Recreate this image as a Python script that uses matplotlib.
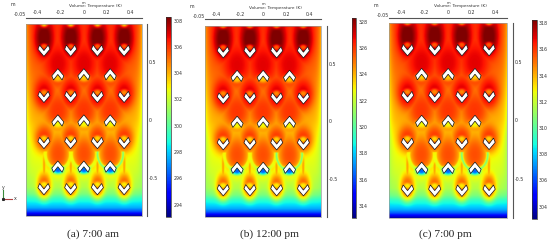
import numpy as np
import matplotlib
matplotlib.use('Agg')
import matplotlib.pyplot as plt
from matplotlib.patches import Polygon, Rectangle

W, H = 550, 244
captions = ['(a) 7:00 am', '(b) 12:00 pm', '(c) 7:00 pm']
offsets = [0, 20, 10]
cbar_ticks = [[294, 296, 298, 300, 302, 304, 306, 308],
              [314, 316, 318, 320, 322, 324, 326, 328],
              [304, 306, 308, 310, 312, 314, 316, 318]]
cbar_lims = [(293.03, 308.25), (313.06, 328.25), (303.03, 318.25)]
x_ticks = [-0.4, -0.2, 0, 0.2, 0.4]
y_ticks = [-0.5, 0, 0.5]

# panel geometry in reference pixels: image box, ruler positions, colourbar box
img_boxes = [(26, 141.7, 24, 216), (205.3, 321, 25.7, 217), (389.3, 507, 23, 218)]
top_ruler = [17.5, 19.3, 17.7]
right_ruler = [147, 326.7, 512.7]
cbar_boxes = [(166.3, 171, 17.3, 217.3), (351.7, 356.3, 18.3, 218.3), (532, 536.7, 20, 219.3)]
cap_xy = [(93, 234), (270, 234), (445, 234)]

# vertical temperature profile between the fins
prof_y = [-0.83, -0.81, -0.79, -0.76, -0.72, -0.68, -0.64, -0.58, -0.45, -0.2, 0.0, 0.3, 0.6, 0.83]
prof_T = [293.5, 294.8, 296.2, 297.5, 298.4, 299.3, 300.6, 301.6, 302.3, 303.2, 304.1, 305.0, 305.8, 306.1]

# fin positions
down_x = [-0.345, -0.114, 0.117, 0.348]
up_x = [-0.225, 0.0, 0.228]
down_tip = [0.55, 0.15, -0.248, -0.647]
up_apex = [0.444, 0.045, -0.354]

# plume above each fin row: centre offset from the fin, half-width, half-height, peak
down_cy = [0.16, 0.08, 0.09, 0.08]
down_rx = [0.08, 0.085, 0.08, 0.062]
down_ry = [0.17, 0.135, 0.115, 0.115]
down_peak = [308.5, 307.0, 306.0, 305.4]
up_cy = [0.04, 0.035, 0.06]
up_rx = [0.115, 0.105, 0.1]
up_ry = [0.17, 0.15, 0.165]
up_peak = [306.9, 306.0, 305.6]
# temperature held inside the V of each fin
down_in = [305.4, 304.6, 303.4, 303.0]
up_in = [303.6, 302.8, 296.4]


def build_field():
    xs = np.linspace(-0.5, 0.5, 300)
    ys = np.linspace(-0.83, 0.83, 500)
    X, Y = np.meshgrid(xs, ys)
    T = np.interp(Y, prof_y, prof_T)
    # cooler walls, growing as one goes up
    wall = np.exp(-(0.5 - np.abs(X)) / 0.03)
    T = T - wall * 1.8 * np.clip((Y + 0.75) / 0.6, 0, 1)

    def plume(cx, cy, rx, ry, peak):
        r2 = ((X - cx) / rx) ** 2 + ((Y - cy) / ry) ** 2
        return T + (peak - T) * np.exp(-r2 ** 1.5)

    F = T.copy()
    for i, yt in enumerate(down_tip):
        for cx in down_x:
            F = np.maximum(F, plume(cx, yt + down_cy[i], down_rx[i], down_ry[i], down_peak[i]))
            if i == 3:  # thin stem rising from the lowest row
                F = np.maximum(F, plume(cx, yt + 0.25, 0.012, 0.14, 304.2))
    for i, ya in enumerate(up_apex):
        for cx in up_x:
            F = np.maximum(F, plume(cx, ya + up_cy[i], up_rx[i], up_ry[i], up_peak[i]))
            if i == 2:  # cool halo under the lower shoulders
                r = np.hypot((X - cx) / 0.105, (Y - ya - 0.06) / 0.125)
                halo = np.exp(-((r - 1.05) / 0.1) ** 2) * (Y < ya + 0.08)
                F = F - halo * 3.0
    # yellow spots on the top edge above the upper fins
    for cx in down_x:
        r2 = ((X - cx) / 0.03) ** 2 + ((Y - 0.83) / 0.025) ** 2
        F = F + (303.0 - F) * np.exp(-r2)
    # inside of the Vs
    for i, yt in enumerate(down_tip):
        for cx in down_x:
            r2 = ((X - cx) / 0.032) ** 2 + ((Y - yt - 0.088) / 0.026) ** 2
            F = F + (down_in[i] - F) * np.exp(-r2 ** 1.5)
    for i, ya in enumerate(up_apex):
        for cx in up_x:
            r2 = ((X - cx) / 0.05) ** 2 + ((Y - ya + 0.078) / 0.036) ** 2
            F = F + (up_in[i] - F) * np.exp(-r2 ** 1.5)
    return F


FIELD = build_field()
V_DOWN = np.array([(0, 0), (-0.052, 0.062), (-0.037, 0.098), (0, 0.05), (0.037, 0.098), (0.052, 0.062)])


def axes_px(fig, l, r, t, b):
    return fig.add_axes([l / W, 1 - b / H, (r - l) / W, (b - t) / H])


fig = plt.figure(figsize=(W / 100, H / 100), dpi=100)
fig.patch.set_facecolor('white')
tkw = dict(fontsize=3.4, color='#333333')

for p in range(3):
    l, r, t, b = img_boxes[p]
    ax = axes_px(fig, l, r, t, b)
    T = FIELD + offsets[p]
    im = ax.imshow(T, origin='lower', extent=(-0.5, 0.5, -0.83, 0.83), cmap='jet',
                   vmin=cbar_lims[p][0], vmax=cbar_lims[p][1], aspect='auto',
                   interpolation='bilinear')
    for cx in down_x:
        for yt in down_tip:
            ax.add_patch(Polygon(V_DOWN + [cx, yt], fc='white', ec='#111111', lw=0.5, joinstyle='miter'))
    for cx in up_x:
        for ya in up_apex:
            ax.add_patch(Polygon(V_DOWN * [1, -1] + [cx, ya], fc='white', ec='#111111', lw=0.5, joinstyle='miter'))
    ax.add_patch(Rectangle((0, 0), 1, 1, transform=ax.transAxes, fill=False, ec='#9a9a9a', lw=0.5, clip_on=False))

    ax.set_xlim(-0.5, 0.5)
    ax.set_ylim(-0.83, 0.83)
    ax.xaxis.tick_top()
    ax.yaxis.tick_right()
    ax.set_xticks(x_ticks, [f'{v:g}' for v in x_ticks])
    ax.set_yticks(y_ticks, [f'{v:g}' for v in y_ticks])
    ax.tick_params(length=0, pad=1.6, labelsize=3.4, labelcolor='#333333')
    for s in ['left', 'bottom']:
        ax.spines[s].set_visible(False)
    ax.spines['top'].set_position(('outward', (t - top_ruler[p]) * 0.72))
    ax.spines['right'].set_position(('outward', (right_ruler[p] - r) * 0.72))
    ax.spines['top'].set_color('#555555')
    ax.spines['right'].set_color('#555555')
    ax.spines['top'].set_linewidth(0.8)
    ax.spines['right'].set_linewidth(0.8)

    cx_mid = (l + r) / 2
    fig.text((cx_mid + 12) / W, 1 - (top_ruler[p] - 11.5) / H, 'Volume: Temperature (K)', ha='center', va='center', fontsize=3.1, color='#333333')
    fig.text(cx_mid / W, 1 - (top_ruler[p] - 15) / H, 'm', ha='center', va='center', fontsize=2.6, color='#333333')
    fig.text((l - 13) / W, 1 - (top_ruler[p] - 12.5) / H, 'm', ha='center', va='center', **tkw)
    fig.text((l - 6) / W, 1 - (top_ruler[p] - 2.5) / H, '-0.05', ha='center', va='center', **tkw)

    c0, c1, ct, cb = cbar_boxes[p]
    cax = axes_px(fig, c0, c1, ct, cb)
    cbar = fig.colorbar(im, cax=cax, ticks=cbar_ticks[p])
    cbar.ax.tick_params(length=0, pad=1.6, labelsize=3.4, labelcolor='#333333')
    cbar.outline.set_edgecolor('#333333')
    cbar.outline.set_linewidth(0.5)

    fig.text(cap_xy[p][0] / W, 1 - cap_xy[p][1] / H, captions[p], ha='center', va='center',
             fontsize=8.2, family='Liberation Serif', color='#222222')

# axis triad of the first panel
tri = axes_px(fig, 0, 30, 180, 206)
tri.set_xlim(0, 30)
tri.set_ylim(26, 0)
tri.axis('off')
tri.plot([3, 3], [19, 10], color='#3a8a3a', lw=0.8)
tri.plot([3, 12], [19, 19], color='#b04040', lw=0.8)
tri.plot([3], [19], 's', color='#2a2a2a', ms=1.2)
tri.text(3.5, 7, 'y', ha='center', va='center', **tkw)
tri.text(15, 19, 'x', ha='center', va='center', **tkw)

fig.savefig('out.png', dpi=100)
